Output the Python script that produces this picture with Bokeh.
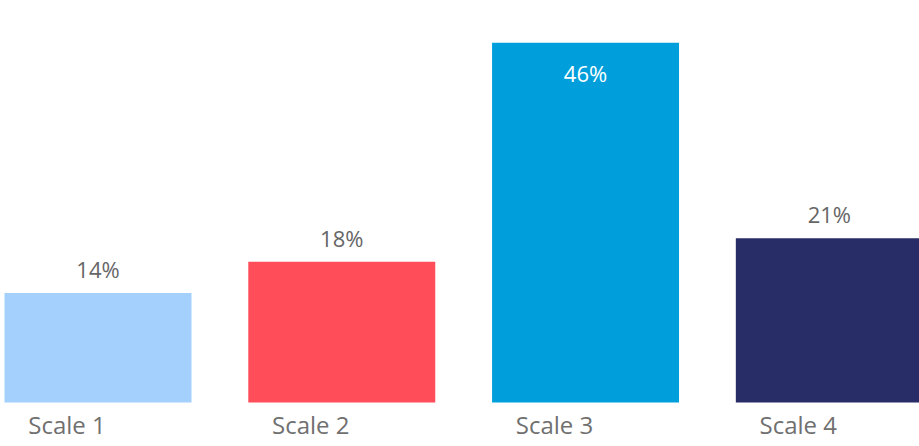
from bokeh.plotting import figure
from bokeh.models import Range1d, ColumnDataSource
from bokeh.core.properties import value
from bokeh.embed import file_html
from bokeh.resources import INLINE

categories = ["Scale 1", "Scale 2", "Scale 3", "Scale 4"]
values = [14, 18, 46, 21]
labels = ["14%", "18%", "46%", "21%"]
colors = ["#a3d0fd", "#ff4d5a", "#009fdb", "#282c67"]

xs = list(range(len(categories)))
vmax = max(values)
src = ColumnDataSource(dict(x=xs, v=values, lab=labels, cat=categories, c=colors))

inside = [i for i, v in enumerate(values) if v == vmax]
outside = [i for i, v in enumerate(values) if v != vmax]
src_out = ColumnDataSource(dict(x=[xs[i] for i in outside], v=[values[i] for i in outside],
                                lab=[labels[i] for i in outside]))
src_in = ColumnDataSource(dict(x=[xs[i] for i in inside], v=[values[i] for i in inside],
                               lab=[labels[i] for i in inside]))

p = figure(width=919, height=446, output_backend="svg", toolbar_location=None,
           x_range=Range1d(-0.40, 3.37), y_range=Range1d(-5.63, 51.41),
           min_border=0, min_border_left=0, min_border_right=0,
           min_border_top=0, min_border_bottom=0)
p.axis.visible = False
p.grid.visible = False
p.outline_line_color = None
p.background_fill_color = "white"
p.border_fill_color = "white"

p.vbar(x="x", top="v", bottom=0, width=0.767, fill_color="c", line_color=None, source=src)

p.text(x="x", y="v", text="lab", source=src_out, text_align="center",
       text_baseline="middle", y_offset=-24, text_font=value("Open Sans"),
       text_font_size="22px", text_color="#666666")
p.text(x="x", y="v", text="lab", source=src_in, text_align="center",
       text_baseline="middle", y_offset=30, text_font=value("Open Sans"),
       text_font_size="22px", text_color="#ffffff")

p.text(x="x", y=0, text="cat", source=src, text_align="center",
       text_baseline="middle", x_offset=-31, y_offset=22, text_font=value("Open Sans"),
       text_font_size="24px", text_color="#707070")

open("out.html", "w").write(file_html(p, INLINE))
